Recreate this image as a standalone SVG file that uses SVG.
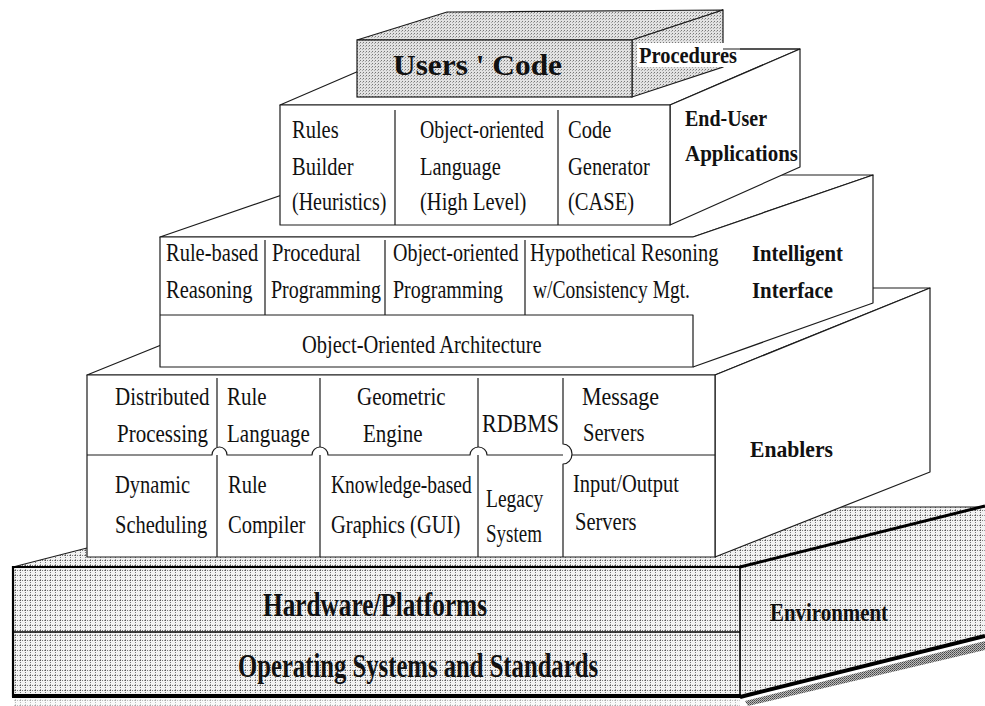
<svg xmlns="http://www.w3.org/2000/svg" width="985" height="706" viewBox="0 0 985 706">
<defs>
<pattern id="stip" width="3" height="3" patternUnits="userSpaceOnUse"><rect width="3" height="3" fill="#e2e2e2"/><rect width="1" height="1" fill="#777"/><rect x="2" y="1" width="1" height="1" fill="#aaa"/></pattern>
<pattern id="grid" width="5" height="5" patternUnits="userSpaceOnUse"><rect width="5" height="5" fill="#f2f2f2"/><rect width="1" height="1" fill="#555"/><rect y="2" width="1" height="1" fill="#777"/><rect y="4" width="1" height="1" fill="#999"/><rect x="2" width="1" height="1" fill="#777"/><rect x="4" width="1" height="1" fill="#999"/></pattern>
<pattern id="shade" width="2" height="2" patternUnits="userSpaceOnUse"><rect width="2" height="2" fill="#bbb"/><rect width="1" height="1" fill="#444"/><rect x="1" y="1" width="1" height="1" fill="#666"/></pattern>
</defs>
<style>
.ln{fill:none;stroke:#1c1c1c;stroke-width:1.2;stroke-linejoin:round}
.wf{fill:#fff;stroke:#1c1c1c;stroke-width:1.2;stroke-linejoin:round}
.wn{fill:#fff;stroke:none}
.gs{fill:url(#stip);stroke:#1c1c1c;stroke-width:1.2}
.gg{fill:url(#grid);stroke:none}
.thick{fill:none;stroke:#000;stroke-width:4}
.t{font-family:"Liberation Serif","Times New Roman",serif;font-size:25px;fill:#111}
.b{font-family:"Liberation Serif","Times New Roman",serif;font-weight:bold;fill:#111}
</style>

<!-- Base: Hardware / OS / Environment -->
<g id="base">
<polygon points="745,701 985,641 985,650 748,706" fill="url(#shade)"/>
<rect x="14" y="698" width="726" height="8" fill="url(#grid)" opacity="0.5"/>
<polygon class="gg" points="13,567 740,567 985,506 985,507 253,507"/>
<polygon class="gg" points="740,567 985,506 985,636 740,697"/>
<rect class="gg" x="13" y="567" width="727" height="130"/>
<line class="ln" x1="13" y1="567" x2="87" y2="548"/>
<line class="ln" x1="840" y1="507" x2="985" y2="507"/>
<line x1="13" y1="567" x2="740" y2="567" stroke="#000" stroke-width="2.2"/>
<line x1="740" y1="567" x2="985" y2="506" stroke="#000" stroke-width="3"/>
<line x1="13" y1="566" x2="13" y2="697" stroke="#000" stroke-width="2.2"/>
<line x1="740" y1="567" x2="740" y2="697" stroke="#000" stroke-width="1.6"/>
<line x1="13" y1="632" x2="740" y2="632" stroke="#000" stroke-width="1.6"/>
<line class="thick" x1="12" y1="696" x2="741" y2="696"/>
<line class="thick" x1="740" y1="697" x2="985" y2="636"/>
<text class="b" x="263" y="616" font-size="33" textLength="224" lengthAdjust="spacingAndGlyphs">Hardware/Platforms</text>
<text class="b" x="238" y="677" font-size="33" textLength="360" lengthAdjust="spacingAndGlyphs">Operating Systems and Standards</text>
<text class="b" x="770" y="621" font-size="26" textLength="118" lengthAdjust="spacingAndGlyphs">Environment</text>
</g>

<!-- Enablers layer -->
<g id="enablers">
<polygon class="wf" points="87,375 715,375 930,288 302,288"/>
<polygon class="wf" points="715,375 930,288 930,472 715,557"/>
<rect class="wf" x="87" y="375" width="628" height="182"/>
<path class="ln" d="M87,455 L212,455 A7.5,8 0 0 1 227,455 L312,455 A8,8 0 0 1 328,455 L470,455 A8.5,8 0 0 1 487,455 L563,455 M572,455 L715,455"/>
<path class="ln" d="M217,378 L217,447 M217,455 L217,557 M320,378 L320,447 M320,455 L320,557 M478,378 L478,447 M478,455 L478,557"/>
<path class="ln" d="M563,378 L563,444 A9,10 0 0 1 563,464 L563,557"/>
<text class="t" transform="matrix(.84 0 0 1 115 405)">Distributed</text>
<text class="t" transform="matrix(.84 0 0 1 117 442)">Processing</text>
<text class="t" transform="matrix(.84 0 0 1 227 405)">Rule</text>
<text class="t" transform="matrix(.84 0 0 1 227 442)">Language</text>
<text class="t" transform="matrix(.84 0 0 1 357 405)">Geometric</text>
<text class="t" transform="matrix(.84 0 0 1 363 442)">Engine</text>
<text class="t" transform="matrix(.88 0 0 1 482 432)">RDBMS</text>
<text class="t" transform="matrix(.88 0 0 1 582 405)">Message</text>
<text class="t" transform="matrix(.82 0 0 1 583 441)">Servers</text>
<text class="t" transform="matrix(.82 0 0 1 115 493)">Dynamic</text>
<text class="t" transform="matrix(.82 0 0 1 115 533)">Scheduling</text>
<text class="t" transform="matrix(.82 0 0 1 228 493)">Rule</text>
<text class="t" transform="matrix(.82 0 0 1 228 533)">Compiler</text>
<text class="t" transform="matrix(.78 0 0 1 331 493)">Knowledge-based</text>
<text class="t" transform="matrix(.82 0 0 1 331 533)">Graphics (GUI)</text>
<text class="t" transform="matrix(.78 0 0 1 486 507)">Legacy</text>
<text class="t" transform="matrix(.76 0 0 1 486 542)">System</text>
<text class="t" transform="matrix(.82 0 0 1 573 492)">Input/Output</text>
<text class="t" transform="matrix(.82 0 0 1 575 530)">Servers</text>
<text class="b" x="750" y="457" font-size="23" textLength="83" lengthAdjust="spacingAndGlyphs">Enablers</text>
</g>

<!-- Intelligent Interface layer -->
<g id="intelligent">
<polygon class="wf" points="160,237 693,237 873,175 340,175"/>
<polygon class="wn" points="693,237 873,175 873,303 693,367"/>
<path class="ln" d="M693,237 L873,175 L873,303 L693,367"/>
<rect class="wn" x="160" y="237" width="533" height="130"/>
<path class="ln" d="M693,237 L160,237 L160,367 L693,367 L693,315 L160,315"/>
<path class="ln" d="M265,240 L265,315 M385,240 L385,315 M525,240 L525,315"/>
<text class="t" transform="matrix(.82 0 0 1 166 261)">Rule-based</text>
<text class="t" transform="matrix(.82 0 0 1 166 298)">Reasoning</text>
<text class="t" transform="matrix(.82 0 0 1 272 261)">Procedural</text>
<text class="t" transform="matrix(.8 0 0 1 271 298)">Programming</text>
<text class="t" transform="matrix(.8 0 0 1 393 261)">Object-oriented</text>
<text class="t" transform="matrix(.8 0 0 1 393 298)">Programming</text>
<text class="t" transform="matrix(.82 0 0 1 530 261)">Hypothetical Resoning</text>
<text class="t" transform="matrix(.78 0 0 1 533 298)">w/Consistency Mgt.</text>
<text class="t" transform="matrix(.82 0 0 1 302 353)">Object-Oriented Architecture</text>
<text class="b" x="752" y="261" font-size="23" textLength="91" lengthAdjust="spacingAndGlyphs">Intelligent</text>
<text class="b" x="752" y="298" font-size="23" textLength="81" lengthAdjust="spacingAndGlyphs">Interface</text>
</g>

<!-- End-User Applications layer -->
<g id="end-user">
<polygon class="wf" points="280,105 670,105 800,49 410,49"/>
<polygon class="wf" points="670,105 800,49 800,167 670,225"/>
<rect class="wf" x="280" y="105" width="390" height="120"/>
<path class="ln" d="M395,110 L395,225 M558,110 L558,225"/>
<text class="t" transform="matrix(.82 0 0 1 292 138)">Rules</text>
<text class="t" transform="matrix(.82 0 0 1 292 175)">Builder</text>
<text class="t" transform="matrix(.8 0 0 1 292 210)">(Heuristics)</text>
<text class="t" transform="matrix(.79 0 0 1 420 138)">Object-oriented</text>
<text class="t" transform="matrix(.82 0 0 1 420 175)">Language</text>
<text class="t" transform="matrix(.82 0 0 1 420 210)">(High Level)</text>
<text class="t" transform="matrix(.82 0 0 1 568 138)">Code</text>
<text class="t" transform="matrix(.82 0 0 1 568 175)">Generator</text>
<text class="t" transform="matrix(.82 0 0 1 568 210)">(CASE)</text>
<text class="b" x="685" y="126" font-size="24" textLength="82" lengthAdjust="spacingAndGlyphs">End-User</text>
<text class="b" x="685" y="161" font-size="24" textLength="113" lengthAdjust="spacingAndGlyphs">Applications</text>
</g>

<!-- Users' Code box -->
<g id="users-code">
<polygon class="gs" points="357,40 632,40 723,10 447,12"/>
<polygon class="gs" points="632,40 723,10 723,67 632,97"/>
<rect class="gs" x="357" y="40" width="275" height="57"/>
<rect x="637" y="43" width="103" height="24" fill="#fff"/>
<line class="ln" x1="723" y1="49" x2="800" y2="49"/>
<text class="b" x="393" y="75" font-size="30" textLength="169" lengthAdjust="spacingAndGlyphs">Users ' Code</text>
<text class="b" x="639" y="63" font-size="24" textLength="98" lengthAdjust="spacingAndGlyphs">Procedures</text>
</g>

<g id="connectors"></g>
</svg>
